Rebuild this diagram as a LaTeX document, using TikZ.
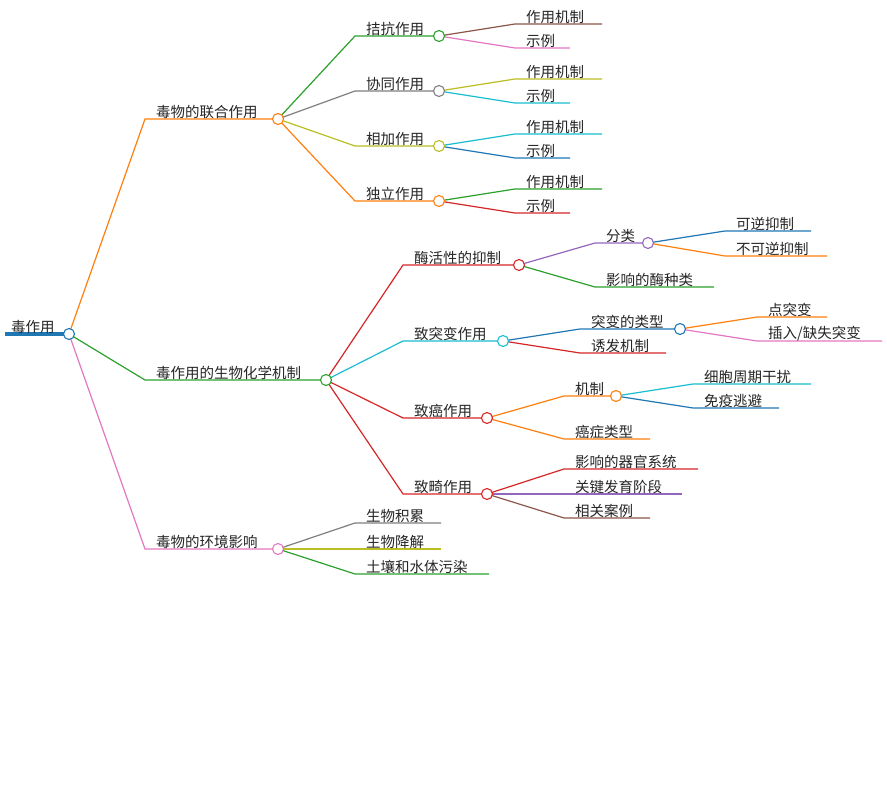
\documentclass[tikz,border=0pt]{standalone}
\usepackage{fontspec}
\setmainfont{Noto Sans CJK SC}
\definecolor{cblue}{HTML}{1F77B4}
\definecolor{corange}{HTML}{FF7F0E}
\definecolor{cgreen}{HTML}{2CA02C}
\definecolor{cred}{HTML}{D62728}
\definecolor{cpurple}{HTML}{9467BD}
\definecolor{cbrown}{HTML}{8C564B}
\definecolor{cpink}{HTML}{E377C2}
\definecolor{cgray}{HTML}{7F7F7F}
\definecolor{colive}{HTML}{BCBD22}
\definecolor{ccyan}{HTML}{17BECF}
\tikzset{lbl/.style={anchor=south west,inner sep=1pt,font=\fontsize{14.5}{16}\selectfont,text=black!85},
 dot/.style={circle,draw,fill=white,line width=1.1pt,inner sep=0pt,minimum size=11pt}}
% \mm{name}{parent}{x0}{x1}{y}{color}{text}
\newcommand\mm[7]{%
 \draw[#6,line width=1.2pt] (#2) .. controls ($(#2)!0.5!(#3,#5)$ |- #2) and ($(#2)!0.5!(#3,#5)$ |- 0,#5) .. (#3,#5) -- (#4,#5);
 \coordinate (#1) at (#4,#5);
 \node[lbl] (#1t) at (#3+10,#5+1) {#7};}
\usetikzlibrary{calc}
\begin{document}
\begin{tikzpicture}[x=1pt,y=-1pt]
\useasboundingbox[fill=white] (0,0) rectangle (887,805);
\draw[cblue,line width=3.5pt] (5,334) -- (69,334);
\coordinate (r) at (69,334);
\node[lbl] (rt) at (10,335) {毒作用};
\mm{a}{r}{145}{278}{119}{corange}{毒物的联合作用}
\mm{b}{r}{145}{326}{380}{cgreen}{毒作用的生物化学机制}
\mm{c}{r}{145}{278}{549}{cpink}{毒物的环境影响}
\mm{a1}{a}{355}{439}{36}{cgreen}{拮抗作用}
\mm{a2}{a}{355}{439}{91}{cgray}{协同作用}
\mm{a3}{a}{355}{439}{146}{colive}{相加作用}
\mm{a4}{a}{355}{439}{201}{corange}{独立作用}
\mm{a11}{a1}{515}{602}{24}{cbrown}{作用机制}
\mm{a12}{a1}{515}{570}{48}{cpink}{示例}
\mm{a21}{a2}{515}{602}{79}{colive}{作用机制}
\mm{a22}{a2}{515}{570}{103}{ccyan}{示例}
\mm{a31}{a3}{515}{602}{134}{ccyan}{作用机制}
\mm{a32}{a3}{515}{570}{158}{cblue}{示例}
\mm{a41}{a4}{515}{602}{189}{cgreen}{作用机制}
\mm{a42}{a4}{515}{570}{213}{cred}{示例}
\mm{b1}{b}{403}{519}{265}{cred}{酶活性的抑制}
\mm{b2}{b}{403}{503}{341}{ccyan}{致突变作用}
\mm{b3}{b}{403}{487}{418}{cred}{致癌作用}
\mm{b4}{b}{403}{487}{494}{cred}{致畸作用}
\mm{b11}{b1}{595}{648}{243}{cpurple}{分类}
\mm{b12}{b1}{595}{714}{287}{cgreen}{影响的酶种类}
\mm{b111}{b11}{725}{811}{231}{cblue}{可逆抑制}
\mm{b112}{b11}{725}{827}{256}{corange}{不可逆抑制}
\mm{b21}{b2}{580}{680}{329}{cblue}{突变的类型}
\mm{b22}{b2}{580}{666}{353}{cred}{诱发机制}
\mm{b211}{b21}{757}{827}{317}{corange}{点突变}
\mm{b212}{b21}{757}{882}{341}{cpink}{插入/缺失突变}
\mm{b31}{b3}{564}{616}{396}{corange}{机制}
\mm{b32}{b3}{564}{650}{439}{corange}{癌症类型}
\mm{b311}{b31}{693}{811}{384}{ccyan}{细胞周期干扰}
\mm{b312}{b31}{693}{779}{408}{cblue}{免疫逃避}
\mm{b41}{b4}{564}{698}{469}{cred}{影响的器官系统}
\mm{b42}{b4}{564}{682}{494}{cpurple}{关键发育阶段}
\mm{b43}{b4}{564}{650}{518}{cbrown}{相关案例}
\mm{c1}{c}{355}{441}{523}{cgray}{生物积累}
\mm{c2}{c}{355}{441}{549}{colive}{生物降解}
\mm{c3}{c}{355}{489}{574}{cgreen}{土壤和水体污染}
\foreach \n/\c in {r/cblue,a/corange,b/cgreen,c/cpink,a1/cgreen,a2/cgray,a3/colive,a4/corange,b1/cred,b2/ccyan,b3/cred,b4/cred,b11/cpurple,b21/cblue,b31/corange}
 \node[dot,draw=\c] at (\n) {};
\end{tikzpicture}
\end{document}
